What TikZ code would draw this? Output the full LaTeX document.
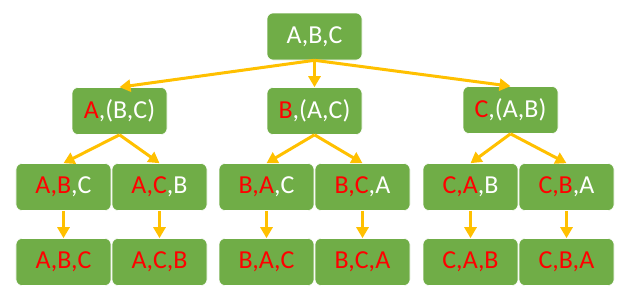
\documentclass[tikz,border=0pt]{standalone}
\usepackage{fontspec}
\setmainfont{Carlito}
\usetikzlibrary{arrows.meta}
\definecolor{boxgreen}{HTML}{70AD47}
\definecolor{arrowy}{HTML}{FFC000}
\definecolor{txtred}{HTML}{FF0000}
\newcommand{\rd}[1]{\textcolor{txtred}{#1}}
\begin{document}
\begin{tikzpicture}[x=1bp,y=-1bp,
  permbox/.style={fill=boxgreen,draw=white,line width=0.6bp,rounded corners=6bp,
    minimum width=95bp,minimum height=47bp,inner sep=0pt,text=white,
    font=\fontsize{26}{31}\selectfont},
  arr/.style={draw=arrowy,line width=3bp,-{Triangle[length=11bp,width=12bp]}}]
\useasboundingbox (0,0) rectangle (634,296);
\node[permbox] (r) at (314.5,36.5) {A,B,C};
\node[permbox] (a) at (119.5,111) {\rd{A},(B,C)};
\node[permbox] (b) at (314.5,111) {\rd{B},(A,C)};
\node[permbox] (c) at (510.5,110) {\rd{C},(A,B)};
\node[permbox] (ab) at (63.5,187) {\rd{A,B},C};
\node[permbox] (ac) at (159.5,187) {\rd{A,C},B};
\node[permbox] (ba) at (266.5,187) {\rd{B,A},C};
\node[permbox] (bc) at (362.5,187) {\rd{B,C},A};
\node[permbox] (ca) at (470.5,187) {\rd{C,A},B};
\node[permbox] (cb) at (566.5,187) {\rd{C,B},A};
\node[permbox] (abc) at (63.5,262) {\rd{A,B,C}};
\node[permbox] (acb) at (159.5,262) {\rd{A,C,B}};
\node[permbox] (bac) at (266.5,262) {\rd{B,A,C}};
\node[permbox] (bca) at (362.5,262) {\rd{B,C,A}};
\node[permbox] (cab) at (470.5,262) {\rd{C,A,B}};
\node[permbox] (cba) at (566.5,262) {\rd{C,B,A}};
\foreach \p/\c in {r/a,r/b,r/c,a/ab,a/ac,b/ba,b/bc,c/ca,c/cb,ab/abc,ac/acb,ba/bac,bc/bca,ca/cab,cb/cba}
  \draw[arr] (\p.south) -- (\c.north);
\end{tikzpicture}
\end{document}
